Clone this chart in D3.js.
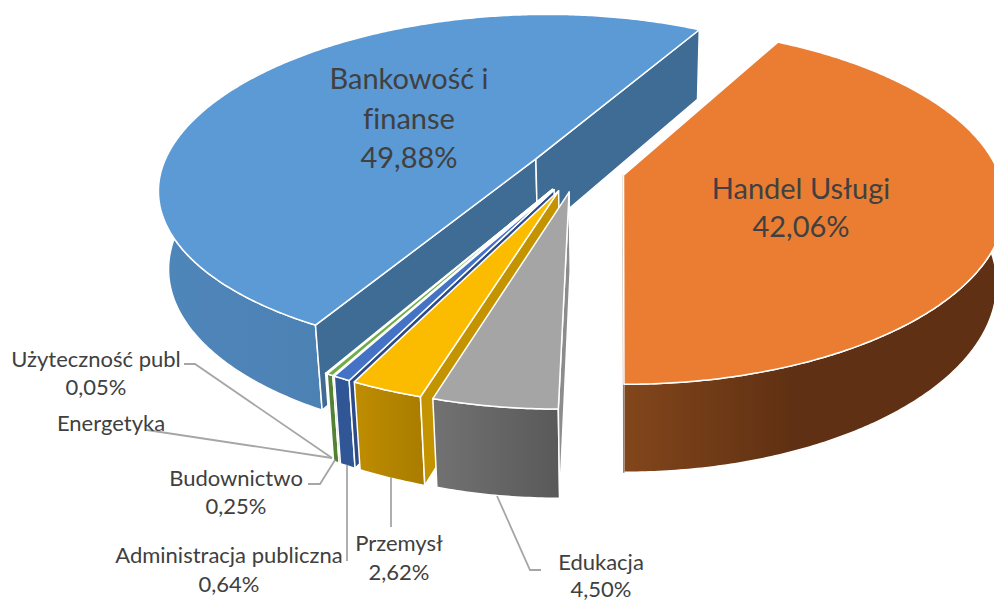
<!DOCTYPE html>
<html lang="pl">
<head>
  <meta charset="UTF-8">
  <title>Udział sektorów</title>
  <script src="https://d3js.org/d3.v7.min.js"></script>
  <style>
    html, body { margin: 0; background: #fff; }
    svg { display: block; }
    text { font-family: Lato, "Open Sans", sans-serif; fill: #404040; text-anchor: middle; font-variant-ligatures: none; }
  </style>
</head>
<body>
  <svg width="994" height="601"></svg>

  <script>
    const categories = ["Bankowość i finanse", "Handel Usługi", "Edukacja", "Przemysł",
      "Administracja publiczna", "Budownictwo", "Energetyka", "Użyteczność publ"];
    const shares = [49.88, 42.06, 4.50, 2.62, 0.64, 0.25, 0, 0.05];

    const topColors = ["#5b9ad5", "#eb7d33", "#a5a5a5", "#fbbc00", "#4472c4", "#70ad47", "#255e91", "#9e480e"];
    const faceColors = ["#3f6c94", "#9a7c66", "#8c8c8c", "#c49300", "#2b4c88", "#548235", "#1c466d", "#76360a"];
    const wallFrom = ["#4f86ba", "#82461b", "#727272", "#bf8d00", "#305696", "#548235", "#1c466d", "#76360a"];
    const wallTo = ["#4676a6", "#5f3013", "#595959", "#a97c00", "#305696", "#548235", "#1c466d", "#76360a"];
    // the rim is not a perfect circle in the picture: sides stick out, blue front is flatter
    const rimBulge = 0.014;
    const frontSquash = [0.97, 1, 1, 1, 1, 1, 1, 1];

    // text next to the pie: [lines, centre x, first baseline, line height, size]
    const labelLayout = [
      [["Bankowość i", "finanse", "49,88%"], 409, 89, 39.5, 29],
      [["Handel Usługi", "42,06%"], 801, 199, 38, 29],
      [["Edukacja", "4,50%"], 601, 570, 27, 22],
      [["Przemysł", "2,62%"], 399, 551, 29, 22],
      [["Administracja publiczna", "0,64%"], 229, 563, 29, 22],
      [["Budownictwo", "0,25%"], 236, 486, 28, 22],
      [["Energetyka"], 111, 431, 28, 22],
      [["Użyteczność publ", "0,05%"], 96, 367, 28, 22]
    ];
    const leaders = [
      [[497, 496], [530, 570], [541, 570]],
      [[391, 527], [391, 477]],
      [[347, 561], [347, 465]],
      [[308, 484], [320, 484], [335, 460]],
      [[147, 430], [332, 458]],
      [[184, 364], [195, 364], [332, 458]]
    ];

    // projection of the tilted pie plane (unit circle) to the screen
    const vx = 618, gx = 577, gy = 169.5, rx = 369, ry = 172, persp = 0.168;
    const explode = 0.13, depthBase = 77, converge = 0.022;
    const firstAngle = 209.1;

    function project(X, Z, low) {
      const s = 1 / (1 - persp * Z);
      let x = vx + s * (gx - vx + rx * X);
      let y = gy + ry * Z * s;
      if (low) {
        x += (vx - x) * converge;
        y += depthBase * Math.pow(s, 0.7);
      }
      return [x, y];
    }

    const svg = d3.select("svg");
    const defs = svg.append("defs");
    const line = d3.line();

    const pie = d3.pie().sort(null).value(d => d)
      .startAngle(firstAngle * Math.PI / 180)
      .endAngle((firstAngle + 360) * Math.PI / 180);
    const arcs = pie(shares);

    wallFrom.forEach((c, i) => {
      const g = defs.append("linearGradient").attr("id", "wall" + i);
      g.append("stop").attr("offset", "0").attr("stop-color", c);
      g.append("stop").attr("offset", i === 1 ? "0.45" : "1").attr("stop-color", wallTo[i]);
    });

    // back to front: the big blue one, then the small ones from the last up, orange on top
    const order = [0, 7, 6, 5, 4, 3, 2, 1];

    order.forEach(i => {
      const a = arcs[i];
      const mid = (a.startAngle + a.endAngle) / 2;
      const ox = explode * Math.sin(mid), oz = -explode * Math.cos(mid);
      const at = (t, low) => {
        const r = 1 + rimBulge * Math.pow(Math.sin(t), 4);
        let dz = -r * Math.cos(t);
        if (dz > 0) dz *= frontSquash[i];
        return project(ox + r * Math.sin(t), oz + dz, low);
      };
      const apex = low => project(ox, oz, low);

      const n = Math.max(2, Math.ceil((a.endAngle - a.startAngle) / 0.01));
      const ts = d3.range(n + 1).map(k => a.startAngle + (a.endAngle - a.startAngle) * k / n);
      const g = svg.append("g");

      // outer wall
      g.append("path")
        .attr("d", line(ts.map(t => at(t, false)).concat(ts.slice().reverse().map(t => at(t, true)))) + "Z")
        .attr("fill", `url(#wall${i})`)
        .attr("stroke", "#fff").attr("stroke-width", 1.5).attr("stroke-linejoin", "round");

      // the two cut faces, only when they look at the camera
      const inner = at(mid, false);
      [a.startAngle, a.endAngle].forEach(t => {
        const p0 = apex(false), p1 = at(t, false), d0 = apex(true);
        const ex = p1[0] - p0[0], ey = p1[1] - p0[1];
        const downSide = ex * (d0[1] - p0[1]) - ey * (d0[0] - p0[0]);
        const inSide = ex * (inner[1] - p0[1]) - ey * (inner[0] - p0[0]);
        if (downSide * inSide >= 0) return;
        g.append("path")
          .attr("d", line([p0, p1, at(t, true), d0]) + "Z")
          .attr("fill", faceColors[i])
          .attr("stroke", i === 1 ? faceColors[i] : "#fff").attr("stroke-width", 1.5).attr("stroke-linejoin", "round");
      });

      // top
      g.append("path")
        .attr("d", line([apex(false)].concat(ts.map(t => at(t, false)))) + "Z")
        .attr("fill", topColors[i])
        .attr("stroke", "#fff").attr("stroke-width", 1.5).attr("stroke-linejoin", "round");
    });

    svg.append("g").selectAll("path").data(leaders).join("path")
      .attr("d", d => line(d))
      .attr("fill", "none").attr("stroke", "#a6a6a6").attr("stroke-width", 1.8);

    labelLayout.forEach(([lines, x, y, lh, size]) => {
      svg.append("g").selectAll("text").data(lines).join("text")
        .attr("x", x).attr("y", (d, k) => y + k * lh)
        .attr("font-size", size)
        .text(d => d);
    });
  </script>
</body>
</html>
